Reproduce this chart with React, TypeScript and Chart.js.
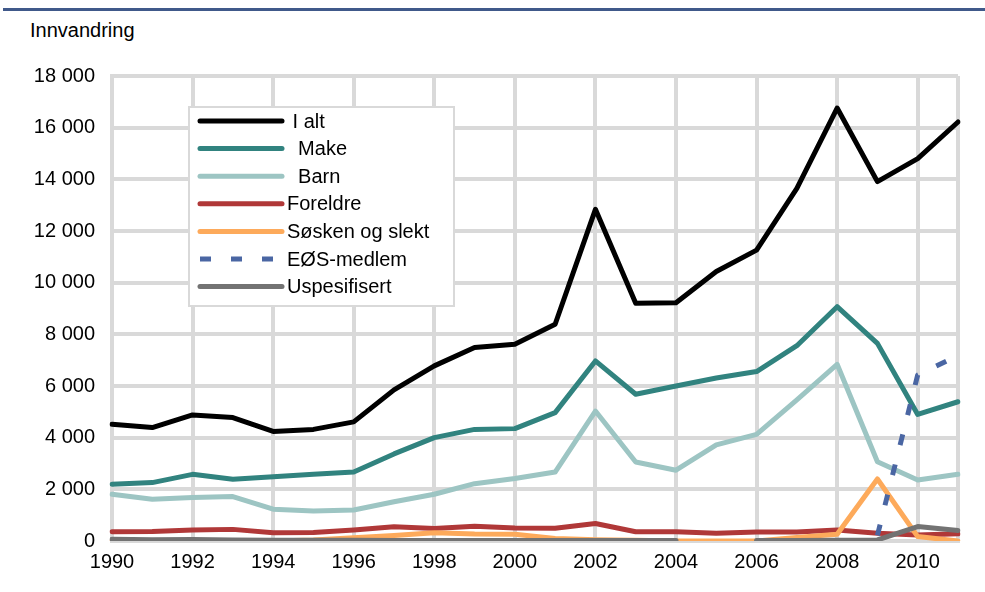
import React, { useEffect, useRef } from 'react';
import { Chart, registerables } from 'chart.js';

Chart.register(...registerables);

const FONT = '"Liberation Sans", Arial, sans-serif';

const years = ['1990', '1991', '1992', '1993', '1994', '1995', '1996', '1997', '1998', '1999', '2000',
  '2001', '2002', '2003', '2004', '2005', '2006', '2007', '2008', '2009', '2010', '2011'];

const iAlt = [4520, 4390, 4880, 4780, 4240, 4320, 4610, 5850, 6780, 7490, 7620,
  8390, 12840, 9200, 9220, 10430, 11260, 13650, 16760, 13910, 14800, 16220];
const make = [2200, 2260, 2580, 2390, 2490, 2580, 2670, 3370, 4000, 4320, 4350,
  4970, 6970, 5680, 6000, 6310, 6560, 7560, 9070, 7650, 4900, 5390];
const barn = [1810, 1620, 1680, 1720, 1230, 1160, 1200, 1520, 1810, 2220, 2420,
  2670, 5030, 3060, 2740, 3720, 4130, 5460, 6840, 3070, 2360, 2580];
const foreldre = [360, 370, 430, 450, 320, 330, 430, 550, 480, 570, 500,
  490, 680, 360, 360, 300, 350, 350, 430, 300, 230, 280];
const soskenOgSlekt = [0, 0, 10, 0, 0, 40, 130, 210, 320, 270, 260,
  100, 50, 30, 0, 0, 0, 140, 260, 2400, 170, 0];
const eosMedlem = [null, null, null, null, null, null, null, null, null, null, null,
  null, null, null, null, null, null, null, null, 220, 6430, 7180];
const uspesifisert = [70, 50, 60, 40, 30, 30, 30, 20, 20, 20, 20,
  20, 20, 20, 20, null, 20, 20, 30, 40, 560, 410];

const yTicks = [0, 2000, 4000, 6000, 8000, 10000, 12000, 14000, 16000, 18000];

const seriesLabels = [' I alt', '  Make', '  Barn', 'Foreldre', 'Søsken og slekt', 'EØS-medlem', 'Uspesifisert'];
const seriesColors = ['#000000', '#31837f', '#9dc5c3', '#b03838', '#fdaa5b', '#4a66a3', '#737373'];
const seriesData = [iAlt, make, barn, foreldre, soskenOgSlekt, eosMedlem, uspesifisert];

const GRID = '#d9d9d9';

const fmt = (v: number) => String(v).replace(/\B(?=(\d{3})+(?!\d))/g, ' ');

const legendPlugin = {
  id: 'boxLegend',
  afterDraw(chart: any) {
    const ctx = chart.ctx;
    const ca = chart.chartArea;
    const bx = ca.left + 76;
    const by = ca.top + 30;
    const bw = 267;
    const bh = 201;
    ctx.save();
    ctx.fillStyle = '#ffffff';
    ctx.fillRect(bx, by, bw, bh);
    ctx.strokeStyle = GRID;
    ctx.lineWidth = 2;
    ctx.strokeRect(bx + 1, by + 1, bw - 2, bh - 2);
    chart.data.datasets.forEach((ds: any, i: number) => {
      const y = by + 15 + i * 27.6;
      ctx.beginPath();
      if (ds.borderDash && ds.borderDash.length) {
        ctx.setLineDash(ds.borderDash);
        ctx.lineCap = 'butt';
      } else {
        ctx.setLineDash([]);
        ctx.lineCap = 'round';
      }
      ctx.strokeStyle = ds.borderColor;
      ctx.lineWidth = 5;
      ctx.moveTo(bx + 12, y);
      ctx.lineTo(bx + 94, y);
      ctx.stroke();
      ctx.setLineDash([]);
      ctx.fillStyle = '#000';
      ctx.font = '20px ' + FONT;
      ctx.textBaseline = 'middle';
      ctx.textAlign = 'left';
      ctx.fillText(ds.label, bx + 99, y + 1);
    });
    ctx.restore();
  },
};

export default function App() {
  const canvasRef = useRef<HTMLCanvasElement | null>(null);

  useEffect(() => {
    const canvas = canvasRef.current;
    if (!canvas) return;
    const datasets = seriesData.map((d, i) => ({
      label: seriesLabels[i],
      data: d,
      borderColor: seriesColors[i],
      backgroundColor: seriesColors[i],
      borderWidth: 5,
      borderDash: i === 5 ? [11, 20] : [],
      borderCapStyle: i === 5 ? 'butt' : 'round',
      borderJoinStyle: 'round',
      pointRadius: 0,
      pointHoverRadius: 0,
      tension: 0,
      fill: false,
      spanGaps: false,
      order: seriesData.length - i,
    }));

    const chart = new Chart(canvas, {
      type: 'line',
      data: { labels: years, datasets: datasets as any },
      options: {
        animation: false,
        responsive: false,
        maintainAspectRatio: false,
        layout: { padding: { top: 76, right: 27, left: 0, bottom: 0 } },
        plugins: {
          legend: { display: false },
          tooltip: { enabled: false },
          title: { display: false },
        },
        scales: {
          x: {
            type: 'category',
            offset: false,
            grid: {
              color: (c: any) => (c.index % 2 === 0 || c.index === years.length - 1 ? GRID : 'rgba(0,0,0,0)'),
              lineWidth: 4,
              drawTicks: false,
            },
            border: { display: true, color: GRID, width: 4 },
            ticks: {
              autoSkip: false,
              maxRotation: 0,
              minRotation: 0,
              padding: 9,
              color: '#000',
              font: { family: FONT, size: 20 },
              callback: (_v: any, idx: number) => (idx % 2 === 0 ? years[idx] : ''),
            },
            afterFit: (s: any) => { s.height = 51; },
          },
          y: {
            min: 0,
            max: 18000,
            afterBuildTicks: (s: any) => { s.ticks = yTicks.map((v) => ({ value: v })); },
            grid: { color: GRID, lineWidth: 4, drawTicks: false },
            border: { display: true, color: GRID, width: 4 },
            ticks: {
              padding: 17,
              color: '#000',
              font: { family: FONT, size: 20 },
              callback: (v: any) => fmt(Number(v)),
            },
            afterFit: (s: any) => { s.width = 112; },
          },
        },
      },
      plugins: [legendPlugin],
    });
    return () => chart.destroy();
  }, []);

  return (
    <div style={{ position: 'fixed', left: 0, top: 0, width: 985, height: 592, background: '#fff', overflow: 'hidden' }}>
      <div style={{ position: 'absolute', left: 3, top: 8, width: 982, height: 3, background: '#40598a' }} />
      <div style={{ position: 'absolute', left: 30, top: 19, fontFamily: FONT, fontSize: 20, lineHeight: '22px', color: '#000', whiteSpace: 'nowrap' }}>
        Innvandring
      </div>
      <canvas ref={canvasRef} width={985} height={592} style={{ position: 'absolute', left: 0, top: 0, width: 985, height: 592 }} />
    </div>
  );
}
